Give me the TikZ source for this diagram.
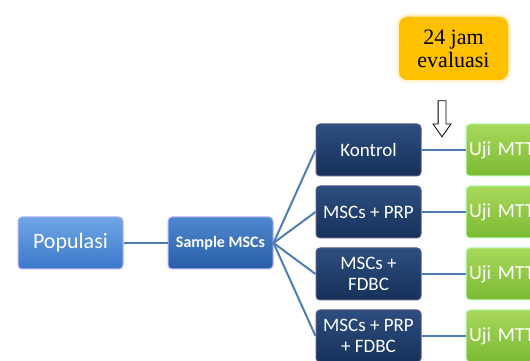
\documentclass[tikz,border=0pt]{standalone}
\usepackage{fontspec}
\setmainfont{Liberation Serif}
\setsansfont{Carlito}
\usepackage{tikz}
\usetikzlibrary{positioning, shapes.arrows}

\definecolor{linkblue}{HTML}{4F7DB3}
\definecolor{orangebox}{HTML}{FFC000}
\definecolor{notedge}{HTML}{FFF2CC}

\begin{document}
\begin{tikzpicture}[
  x=1pt, y=1pt,
  font=\sffamily\fontsize{19}{21}\selectfont,
  box/.style={draw=white!70!#1, rounded corners=4pt, minimum width=105pt,
    minimum height=52pt, align=center, text=white, line width=1pt,
    inner sep=2pt},
  pop/.style={box=blue, top color={rgb,255:red,112;green,166;blue,230},
    bottom color={rgb,255:red,58;green,120;blue,203},
    font=\sffamily\fontsize{22}{24}\selectfont},
  sample/.style={box=blue, top color={rgb,255:red,78;green,135;blue,208},
    bottom color={rgb,255:red,40;green,94;blue,168},
    font=\sffamily\bfseries\fontsize{16}{18}\selectfont},
  group/.style={box=blue!50!black, top color={rgb,255:red,45;green,78;blue,128},
    bottom color={rgb,255:red,22;green,49;blue,90}},
  test/.style={box=green, top color={rgb,255:red,168;green,216;blue,92},
    bottom color={rgb,255:red,124;green,186;blue,50},
    font=\sffamily\fontsize{20}{22}\selectfont, text width=99pt, align=left},
  note/.style={draw=notedge, line width=2.5pt,
    rounded corners=10pt, fill=orangebox, minimum width=112pt,
    minimum height=66pt, align=center, text=black,
    font=\rmfamily\fontsize{22}{23}\selectfont},
  link/.style={draw=linkblue, line width=2pt},
]
  \useasboundingbox (0,0) rectangle (530,361);
  \clip (0,0) rectangle (530,361);

  \node[pop] (pop) at (70.5,118) {Populasi};
  \node[sample, right=44pt of pop] (sample) {Sample MSCs};

  \node[group] (g1) at (368.5,211) {Kontrol};
  \node[group, below=9pt of g1] (g2) {MSCs + PRP};
  \node[group, below=9pt of g2] (g3) {MSCs +\\FDBC};
  \node[group, below=9pt of g3] (g4) {MSCs + PRP\\+ FDBC};

  \foreach \g in {g1,g2,g3,g4}{
    \node[test, right=44pt of \g] (t\g) {Uji MTT};
    \draw[link] (\g) -- (t\g);
    \draw[link] (sample.east) -- (\g.west);
  }
  \draw[link] (pop) -- (sample);

  \node[note] (eval) at (453.5,312.5) {24 jam\\evaluasi};
  \node[single arrow, draw, fill=white, thick, shape border rotate=270,
    minimum height=36pt, inner sep=3.5pt, single arrow head extend=5pt,
    single arrow tip angle=70] (down) at (442,245) {};
\end{tikzpicture}
\end{document}
